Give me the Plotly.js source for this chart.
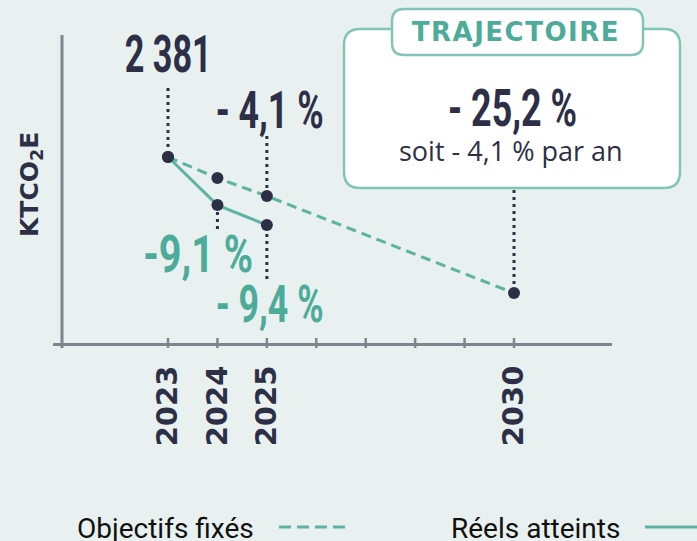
<!DOCTYPE html>
<html><head><meta charset="utf-8">
<script src="https://cdn.plot.ly/plotly-3.0.1.min.js"></script>
<style>html,body{margin:0;padding:0;background:#e8f1ef;}#chart{width:697px;height:541px;}</style>
</head><body><div id="chart"></div>
<script>
// ---- data ----
const objYears = [2023, 2024, 2025, 2030];
const objValues = [2381, 2288, 2209, 1781];   // Objectifs fixés (ktCO2e)
const realYears = [2023, 2024, 2025];
const realValues = [2381, 2169, 2081];        // Réels atteints
const tickYears = [2023, 2024, 2025, 2030];
const tickLabels = ['2023', '2024', '2025', '2030'];
const minorTickYears = [2023, 2024, 2025, 2026, 2027, 2028, 2029, 2030];
const startLabel = '2 381';
const objPctLabel = '- 4,1 %';
const real2024Label = '-9,1 %';
const real2025Label = '- 9,4 %';
const trajTitle = 'TRAJECTOIRE';
const trajPct = '- 25,2 %';
const trajSub = 'soit - 4,1 % par an';
const yTitle = 'KTCO<sub>2</sub>E';
const legendObj = 'Objectifs fixés';
const legendReal = 'Réels atteints';

// ---- layout geometry (pixels) ----
const W = 697, H = 541, L = 53, R = 612, T = 35, B = 343;
const pw = R - L, ph = B - T;
const X = p => (p - L) / pw;
const Y = p => (B - p) / ph;

const dark = '#2c2f45';
const teal = '#5cb3a3';
const tealText = '#4dab99';
const border = '#82c5b8';
const axisCol = '#7f858e';
const numFont = 'Roboto, sans-serif';

function roundRect(x0, y0, x1, y1, r) {
  const p = (x, y) => X(x) + ',' + Y(y);
  return 'M' + p(x0 + r, y0) + ' L' + p(x1 - r, y0) + ' Q' + p(x1, y0) + ' ' + p(x1, y0 + r) +
    ' L' + p(x1, y1 - r) + ' Q' + p(x1, y1) + ' ' + p(x1 - r, y1) +
    ' L' + p(x0 + r, y1) + ' Q' + p(x0, y1) + ' ' + p(x0, y1 - r) +
    ' L' + p(x0, y0 + r) + ' Q' + p(x0, y0) + ' ' + p(x0 + r, y0) + ' Z';
}

const traces = [
  { x: objYears, y: objValues, type: 'scatter', mode: 'lines', line: { color: teal, width: 3, dash: '10px,6px' }, hoverinfo: 'skip', showlegend: false },
  { x: realYears, y: realValues, type: 'scatter', mode: 'lines', line: { color: teal, width: 3 }, hoverinfo: 'skip', showlegend: false },
  { x: objYears, y: objValues, type: 'scatter', mode: 'markers', marker: { color: dark, size: 12 }, hoverinfo: 'skip', showlegend: false },
  { x: realYears, y: realValues, type: 'scatter', mode: 'markers', marker: { color: dark, size: 12 }, hoverinfo: 'skip', showlegend: false }
];

const dot = { color: dark, width: 3, dash: '3px,4px' };
const shapes = [
  { type: 'line', xref: 'paper', yref: 'paper', x0: X(62), x1: X(62), y0: Y(348), y1: Y(35), line: { color: axisCol, width: 3 }, layer: 'below' },
  { type: 'line', xref: 'x', yref: 'paper', x0: objYears[0], x1: objYears[0], y0: Y(88), y1: Y(147), line: dot },
  { type: 'line', xref: 'x', yref: 'paper', x0: objYears[2], x1: objYears[2], y0: Y(136), y1: Y(188), line: dot },
  { type: 'line', xref: 'x', yref: 'paper', x0: realYears[1], x1: realYears[1], y0: Y(212), y1: Y(230), line: dot },
  { type: 'line', xref: 'x', yref: 'paper', x0: realYears[2], x1: realYears[2], y0: Y(234), y1: Y(280), line: dot },
  { type: 'line', xref: 'x', yref: 'paper', x0: objYears[3], x1: objYears[3], y0: Y(190), y1: Y(285), line: dot },
  { type: 'path', xref: 'paper', yref: 'paper', path: roundRect(344, 29, 680, 188, 16), fillcolor: '#ffffff', line: { color: border, width: 2.5 } },
  { type: 'path', xref: 'paper', yref: 'paper', path: roundRect(392, 9, 643, 55, 12), fillcolor: '#ffffff', line: { color: border, width: 2.5 } },
  { type: 'line', xref: 'paper', yref: 'paper', x0: X(279), x1: X(346), y0: Y(527), y1: Y(527), line: { color: teal, width: 3, dash: '12px,6px' } },
  { type: 'line', xref: 'paper', yref: 'paper', x0: X(645), x1: X(700), y0: Y(527), y1: Y(527), line: { color: teal, width: 3 } }
];
minorTickYears.forEach(v => shapes.push({ type: 'line', xref: 'x', yref: 'paper', x0: v, x1: v, y0: Y(348), y1: Y(338), line: { color: axisCol, width: 2.5 }, layer: 'below' }));

const ann = (text, px, py, font, extra) => Object.assign({ text, xref: 'paper', yref: 'paper', x: X(px), y: Y(py), xanchor: 'center', yanchor: 'middle', showarrow: false, font }, extra || {});
const bigDark = { family: numFont, size: 52, color: dark, weight: 700 };
const bigTeal = { family: numFont, size: 52, color: tealText, weight: 700 };
const annotations = [
  ann(startLabel, 168, 54, bigDark),
  ann(objPctLabel, 269, 110, bigDark),
  ann(real2024Label, 198, 254, bigTeal),
  ann(real2025Label, 269, 304, bigTeal),
  ann(trajPct, 512, 108, bigDark),
  ann(trajSub, 511, 150, { family: 'Open Sans, sans-serif', size: 27, color: dark }),
  ann(trajTitle, 516, 32, { family: 'DejaVu Sans, sans-serif', size: 26, color: tealText, weight: 700 }),
  ann(yTitle, 31, 185, { family: 'DejaVu Sans, sans-serif', size: 25, color: dark, weight: 700 }, { textangle: -90 }),
  ann(legendObj, 165, 528, { family: 'Roboto, sans-serif', size: 28, color: '#111111' }),
  ann(legendReal, 535, 528, { family: 'Roboto, sans-serif', size: 28, color: '#111111' })
];
// target widths (px) of the condensed number labels, indices into annotations
const condensed = [[0, 87], [1, 108], [2, 110], [3, 108], [4, 129]];

const slope = 346 / 7;
const layout = {
  width: W, height: H,
  margin: { l: L, r: W - R, t: T, b: H - B, pad: 0 },
  paper_bgcolor: '#e8f1ef', plot_bgcolor: 'rgba(0,0,0,0)',
  showlegend: false,
  xaxis: {
    range: [2023 - (168 - L) / slope, 2030 + (R - 514) / slope],
    tickvals: tickYears, ticktext: tickLabels, tickangle: -90,
    ticks: '', ticklabelstandoff: 8,
    tickfont: { family: 'DejaVu Sans, sans-serif', size: 29, color: dark, weight: 700 },
    showgrid: false, zeroline: false, showline: true, linecolor: axisCol, linewidth: 3
  },
  yaxis: {
    range: [1561, 2919], showticklabels: false, ticks: '', showgrid: false, zeroline: false, showline: false
  },
  shapes, annotations
};

Plotly.newPlot('chart', traces, layout, { displayModeBar: false, staticPlot: true }).then(gd => {
  const texts = gd.querySelectorAll('.annotation .annotation-text');
  condensed.forEach(([i, target]) => {
    const t = texts[i];
    if (!t) return;
    const bb = t.getBBox();
    const s = target / bb.width;
    const cx = bb.x + bb.width / 2;
    t.setAttribute('transform', 'translate(' + cx + ',0) scale(' + s + ',1) translate(' + (-cx) + ',0)');
  });
  const title = texts[6];
  if (title) title.setAttribute('letter-spacing', '1.5');
});
</script></body></html>
